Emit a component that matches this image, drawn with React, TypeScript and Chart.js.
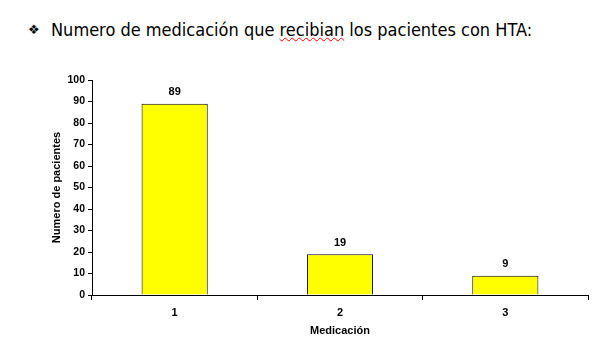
import React, { useEffect, useRef } from "react";
import { Chart, registerables } from "chart.js";

Chart.register(...registerables);

const categories = ["1", "2", "3"];
const patients = [89, 19, 9];
const yTicks = [0, 10, 20, 30, 40, 50, 60, 70, 80, 90, 100];

const valueLabels = {
  id: "valueLabels",
  afterDatasetsDraw(chart: any) {
    const ctx = chart.ctx;
    const meta = chart.getDatasetMeta(0);
    ctx.save();
    ctx.font = "bold 11px 'Liberation Sans', Arial, sans-serif";
    ctx.fillStyle = "#000";
    ctx.textAlign = "center";
    ctx.textBaseline = "bottom";
    meta.data.forEach((bar: any, i: number) => {
      ctx.fillText(String(chart.data.datasets[0].data[i]), bar.x, bar.y - 6);
    });
    ctx.restore();
  },
};

export default function App() {
  const ref = useRef<HTMLCanvasElement>(null);
  useEffect(() => {
    if (!ref.current) return;
    const font = { family: "'Liberation Sans', Arial, sans-serif", size: 11, weight: "bold" as const };
    const chart = new Chart(ref.current, {
      type: "bar",
      data: {
        labels: categories,
        datasets: [
          {
            data: patients,
            backgroundColor: "#FFFF00",
            borderColor: "#000000",
            borderWidth: 1,
            categoryPercentage: 1,
            barPercentage: 0.4,
          },
        ],
      },
      plugins: [valueLabels],
      options: {
        animation: false,
        responsive: false,
        maintainAspectRatio: false,
        layout: { padding: { left: 46, top: 80, right: 28, bottom: 22 } },
        plugins: { legend: { display: false }, tooltip: { enabled: false }, title: { display: false } },
        scales: {
          x: {
            offset: true,
            grid: { offset: true, drawOnChartArea: false, drawTicks: true, tickLength: 5, color: "#000" },
            border: { color: "#000", width: 1 },
            ticks: { color: "#000", font, padding: 6 },
            title: { display: true, text: "Medicación", color: "#000", font, padding: { top: 4, bottom: 4 } },
            afterFit: (s: any) => { s.height = 47; },
          },
          y: {
            min: 0,
            max: 100,
            afterBuildTicks: (s: any) => { s.ticks = yTicks.map((v) => ({ value: v })); },
            grid: { drawOnChartArea: false, drawTicks: true, tickLength: 4, color: "#000" },
            border: { color: "#000", width: 1 },
            ticks: { color: "#000", font: { ...font, size: 10.5 }, padding: 3 },
            title: { display: true, text: "Numero de pacientes", color: "#000", font, padding: { top: 4, bottom: 4 } },
            afterFit: (s: any) => { s.width = 46; },
          },
        },
      },
    });
    return () => chart.destroy();
  }, []);
  return (
    <div style={{ position: "absolute", left: 0, top: 0, width: 616, height: 364, background: "#fff" }}>
      <div
        style={{
          position: "absolute",
          left: 28,
          top: 18,
          whiteSpace: "nowrap",
          fontFamily: "'DejaVu Sans Condensed', 'DejaVu Sans', sans-serif",
          fontSize: 18,
          color: "#000",
          lineHeight: "24px",
        }}
      >
        <span style={{ fontSize: 13, display: "inline-block", width: 23, verticalAlign: "2px", fontFamily: "'DejaVu Sans', sans-serif" }}>❖</span>
        <span>Numero de medicación que </span>
        <span style={{ textDecoration: "underline wavy red", textDecorationThickness: 1 }}>recibian</span>
        <span> los pacientes con HTA:</span>
      </div>
      <canvas ref={ref} width={616} height={364} style={{ position: "absolute", left: 0, top: 0 }} />
    </div>
  );
}
